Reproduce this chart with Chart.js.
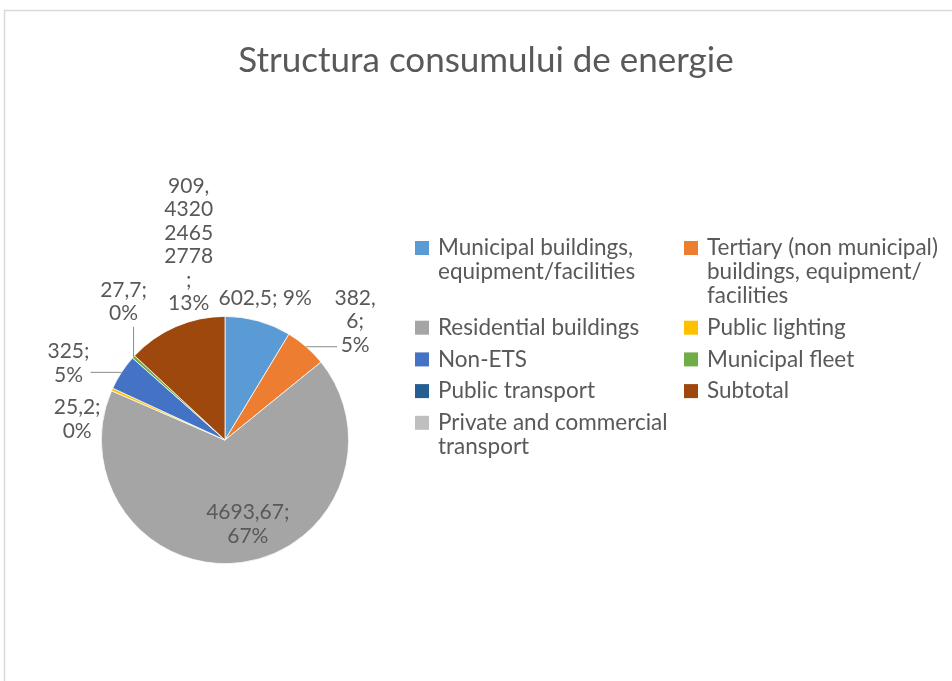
<!DOCTYPE html>
<html>
<head>
<meta charset="utf-8">
<script src="https://cdn.jsdelivr.net/npm/chart.js@4.4.0/dist/chart.umd.min.js"></script>
<style>
  body { margin: 0; background: #fff; overflow: hidden; }
  #chart-div { position: relative; width: 952px; height: 681px; }
</style>
</head>
<body>
<div id="chart-div"><canvas id="myChart"></canvas></div>
<script>
const chartTitle = 'Structura consumului de energie';

// legend labels, already split into lines the way the original wraps them
const categories = [
  ['Municipal buildings,', 'equipment/facilities'],
  ['Tertiary (non municipal)', 'buildings, equipment/', 'facilities'],
  ['Residential buildings'],
  ['Public lighting'],
  ['Non-ETS'],
  ['Municipal fleet'],
  ['Public transport'],
  ['Subtotal'],
  ['Private and commercial', 'transport']
];

const values = [602.5, 382.6, 4693.67, 25.2, 325, 27.7, 0, 909.432024652778, 0];

const colors = ['#5B9BD5', '#ED7D31', '#A5A5A5', '#FFC000', '#4472C4', '#70AD47', '#255E91', '#9E480E', '#BFBFBF'];

// where each data label sits, relative to the outer edge point of its slice
const labelPlacement = [
  { dx: 7, dy: -23, wrap: 130 },
  { dx: 49, dy: -25, wrap: 45, lead: [31, 0] },
  { dx: 6, dy: -38, wrap: 100 },
  { dx: -35, dy: 30, wrap: 60 },
  { dx: -53, dy: -9, wrap: 60, lead: [-31, 0] },
  { dx: -10, dy: -55, wrap: 60, lead: [0, -30] },
  null,
  { dx: 13, dy: -82, wrap: 51 },
  null
];

const textColor = '#595959';
const fontFamily = 'Lato, "Open Sans", sans-serif';

// 15 significant digits, decimal comma (as Excel shows it)
function formatValue(v) {
  return String(Number(v.toPrecision(15))).replace('.', ',');
}

function wrapText(ctx, text, maxWidth) {
  const words = text.split(' ');
  const lines = [];
  let line = '';
  words.forEach(function (word) {
    let test = line ? line + ' ' + word : word;
    if (ctx.measureText(test).width <= maxWidth) {
      line = test;
      return;
    }
    if (line) lines.push(line);
    line = '';
    // word too long for a line: break it by characters
    for (const ch of word) {
      if (line && ctx.measureText(line + ch).width > maxWidth) {
        lines.push(line);
        line = ch;
      } else {
        line += ch;
      }
    }
  });
  if (line) lines.push(line);
  return lines;
}

// frame + title
const framePlugin = {
  id: 'frame',
  beforeDraw(chart) {
    const c = chart.ctx;
    c.save();
    c.strokeStyle = '#d9d9d9';
    c.lineWidth = 1.5;
    c.beginPath();
    c.moveTo(4.5, 700);
    c.lineTo(4.5, 10.5);
    c.lineTo(960, 10.5);
    c.stroke();
    c.fillStyle = textColor;
    c.font = '35px ' + fontFamily;
    c.textAlign = 'center';
    c.textBaseline = 'alphabetic';
    c.fillText(chartTitle, 486, 72);
    c.restore();
  }
};

// value; percent labels with leader lines
const dataLabelPlugin = {
  id: 'dataLabels',
  afterDatasetsDraw(chart) {
    const c = chart.ctx;
    const meta = chart.getDatasetMeta(0);
    const data = chart.data.datasets[0].data;
    const total = data.reduce((a, b) => a + b, 0);
    c.save();
    c.font = '21px ' + fontFamily;
    c.fillStyle = textColor;
    c.textAlign = 'center';
    c.textBaseline = 'middle';
    meta.data.forEach(function (arc, i) {
      const place = labelPlacement[i];
      if (!place || !data[i]) return;
      const p = arc.getProps(['x', 'y', 'startAngle', 'endAngle', 'outerRadius'], true);
      const mid = (p.startAngle + p.endAngle) / 2;
      const ex = p.x + Math.cos(mid) * p.outerRadius;
      const ey = p.y + Math.sin(mid) * p.outerRadius;
      if (place.lead) {
        c.strokeStyle = '#8c8c8c';
        c.lineWidth = 1;
        c.beginPath();
        c.moveTo(ex, ey);
        c.lineTo(ex + place.lead[0], ey + place.lead[1]);
        c.stroke();
      }
      const text = formatValue(data[i]) + '; ' + Math.round(data[i] / total * 100) + '%';
      const lines = wrapText(c, text, place.wrap);
      const lh = 23.5;
      const top = ey + place.dy - (lines.length - 1) * lh / 2;
      lines.forEach(function (ln, k) {
        c.fillText(ln, ex + place.dx, top + k * lh);
      });
    });
    c.restore();
  }
};

// two column legend on the right
const legendPlugin = {
  id: 'sideLegend',
  afterDraw(chart) {
    const c = chart.ctx;
    const labels = chart.data.labels;
    const bg = chart.data.datasets[0].backgroundColor;
    const colX = [415, 684];
    const lineH = 24;
    const rowGap = 7.7;
    let y = 248;
    c.save();
    c.font = '22.5px ' + fontFamily;
    c.fillStyle = textColor;
    c.textBaseline = 'middle';
    for (let r = 0; r < labels.length; r += 2) {
      let maxLines = 1;
      for (let k = 0; k < 2 && r + k < labels.length; k++) {
        const lines = labels[r + k];
        c.fillStyle = bg[r + k];
        c.fillRect(colX[k], y - 7, 14, 14);
        c.fillStyle = textColor;
        lines.forEach(function (ln, j) {
          c.fillText(ln, colX[k] + 23, y + j * lineH);
        });
        maxLines = Math.max(maxLines, lines.length);
      }
      y += maxLines * lineH + rowGap;
    }
    c.restore();
  }
};

ctx = document.getElementById('myChart').getContext('2d');
const chart = new Chart(ctx, {
  type: 'pie',
  data: {
    labels: categories,
    datasets: [{
      data: values,
      backgroundColor: colors,
      borderColor: '#ffffff',
      borderWidth: 0.75,
      hoverOffset: 0
    }]
  },
  options: {
    responsive: true,
    maintainAspectRatio: false,
    animation: false,
    events: [],
    layout: {
      padding: { left: 101, right: 603, top: 316, bottom: 117 }
    },
    plugins: {
      legend: { display: false },
      title: { display: false },
      tooltip: { enabled: false }
    }
  },
  plugins: [framePlugin, dataLabelPlugin, legendPlugin]
});
</script>
</body>
</html>
